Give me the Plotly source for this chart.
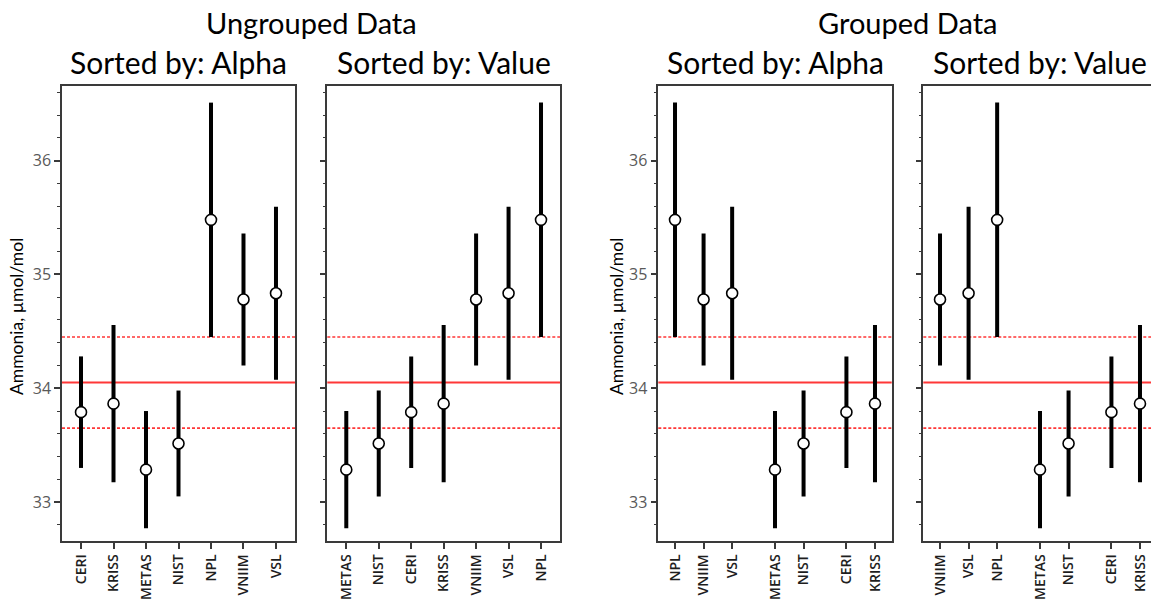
import plotly.graph_objects as go

# Participant results (alphabetical order)
labs = ["CERI", "KRISS", "METAS", "NIST", "NPL", "VNIIM", "VSL"]
values = [33.79, 33.865, 33.285, 33.515, 35.48, 34.78, 34.835]
uncert = [0.49, 0.69, 0.515, 0.465, 1.03, 0.58, 0.76]

# Reference value and its uncertainty
ref_value = 34.05
ref_unc = 0.40

# Groups used in the grouped panels (alphabetical within group)
groups = [["NPL", "VNIIM", "VSL"], ["METAS", "NIST"], ["CERI", "KRISS"]]

y_title = "Ammonia, µmol/mol"
y_range = [32.658, 36.656]
GAP = 1.5
PAD = 0.585

lookup = {l: (v, u) for l, v, u in zip(labs, values, uncert)}


def ungrouped(order):
    return order, list(range(len(order)))


def grouped(by_value):
    names, pos, x = [], [], 0.0
    for g in groups:
        members = sorted(g, key=(lambda n: lookup[n][0]) if by_value else None)
        for k, n in enumerate(members):
            names.append(n)
            pos.append(x)
            if k < len(members) - 1:
                x += 1
        x += GAP
    return names, pos


alpha_order = sorted(labs)
value_order = sorted(labs, key=lambda n: lookup[n][0])

panels = [
    ungrouped(alpha_order),
    ungrouped(value_order),
    grouped(False),
    grouped(True),
]

W, H = 1151, 599
M_TOP, M_BOT = 86, 58
domains_px = [(62, 295), (327.3, 560), (658.3, 891.7), (923.3, 1156.7)]


def py(y_px):
    """Convert a pixel row to paper y (paper spans the plot area)."""
    return (H - M_BOT - y_px) / (H - M_TOP - M_BOT)


fig = go.Figure()
font_ticks = "Open Sans"
font_title = "Lato"
frame_col = "#3a3a3a"

for i, ((names, pos), (x0, x1)) in enumerate(zip(panels, domains_px)):
    n = i + 1
    xa = "x" if n == 1 else f"x{n}"
    ya = "y" if n == 1 else f"y{n}"
    vals = [lookup[k][0] for k in names]
    errs = [lookup[k][1] for k in names]
    fig.add_trace(go.Scatter(
        x=pos, y=vals, xaxis=xa, yaxis=ya, mode="markers",
        marker=dict(symbol="circle", size=11, color="white",
                    line=dict(color="black", width=1.6)),
        error_y=dict(type="data", array=errs, color="black",
                     thickness=4, width=0),
        showlegend=False, hoverinfo="x+y",
    ))

    span = pos[-1] - pos[0] + 2 * PAD
    px_per_unit = (x1 - x0) / span
    right_edge = min(x1, W)
    xr = [pos[0] - PAD, pos[0] - PAD + (right_edge - x0) / px_per_unit]
    full_box = x1 <= W

    xkey = "xaxis" if n == 1 else f"xaxis{n}"
    ykey = "yaxis" if n == 1 else f"yaxis{n}"
    fig.update_layout(**{
        xkey: dict(
            domain=[x0 / W, right_edge / W], anchor=ya, range=xr,
            tickmode="array", tickvals=pos, ticktext=names,
            tickangle=-90, ticks="outside", ticklen=6, tickwidth=1.5,
            tickcolor=frame_col, showgrid=False, zeroline=False,
            showline=True, linecolor=frame_col, linewidth=1.5,
            mirror=True,
            tickfont=dict(family=font_ticks, size=14, color="#1e1e1e",
                          weight=600),
        ),
        ykey: dict(
            domain=[0, 1], anchor=xa, range=y_range,
            tickmode="linear", tick0=33, dtick=1,
            ticks="outside", ticklen=6, tickwidth=1.5, tickcolor=frame_col,
            showticklabels=(n in (1, 3)),
            minor=dict(dtick=0.2, tick0=33, ticks="outside", ticklen=3,
                       tickwidth=1.2, tickcolor=frame_col, showgrid=False),
            showgrid=False, zeroline=False,
            showline=True, linecolor=frame_col, linewidth=1.5,
            mirror=full_box,
            tickfont=dict(family=font_ticks, size=16, color="#595959"),
        ),
    })

    # reference value and expanded uncertainty band limits
    xref_dom = f"{xa} domain"
    fig.add_shape(type="line", xref=xref_dom, yref=ya, x0=0, x1=1,
                  y0=ref_value, y1=ref_value, layer="below",
                  line=dict(color="rgb(255,55,55)", width=2))
    for yv in (ref_value + ref_unc, ref_value - ref_unc):
        fig.add_shape(type="line", xref=xref_dom, yref=ya, x0=0, x1=1,
                      y0=yv, y1=yv, layer="below",
                      line=dict(color="rgb(255,55,55)", width=1.6, dash="3px,2px"))

    # panel sub-title
    fig.add_annotation(text="Sorted by: " + ("Alpha" if i % 2 == 0 else "Value"),
                       xref="paper", yref="paper",
                       x=(x0 + min(x1, 1151.0 + 5)) / 2 / W, y=py(62),
                       xanchor="center", yanchor="middle", showarrow=False,
                       font=dict(family=font_title, size=30, color="black"))

# group titles
for txt, cx in (("Ungrouped Data", 311), ("Grouped Data", 907)):
    fig.add_annotation(text=txt, xref="paper", yref="paper",
                       x=cx / W, y=py(22), xanchor="center",
                       yanchor="middle", showarrow=False,
                       font=dict(family=font_title, size=29, color="black"))

# y-axis titles
for cx in (16, 616):
    fig.add_annotation(text=y_title, xref="paper", yref="paper",
                       x=cx / W, y=py(317), textangle=-90,
                       xanchor="center", yanchor="middle", showarrow=False,
                       font=dict(family=font_title, size=17.5, color="black"))

fig.update_layout(
    width=W, height=H,
    margin=dict(l=0, r=0, t=M_TOP, b=M_BOT),
    paper_bgcolor="white", plot_bgcolor="white",
)

fig.write_html("out.html")
